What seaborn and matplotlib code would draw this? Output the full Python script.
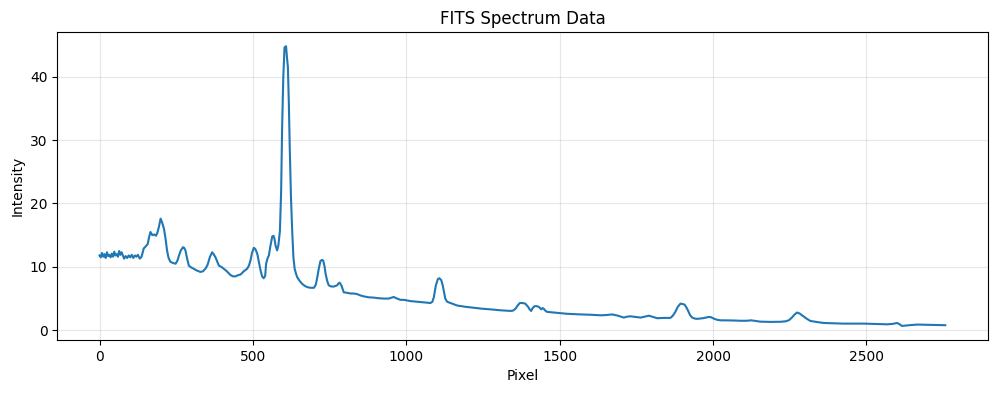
import matplotlib
matplotlib.use("Agg")
from matplotlib import pyplot as plt
import pandas as pd
import seaborn as sns

# values
pixel = [0, 4, 8, 12, 16, 20, 24, 28, 32, 36,
         40, 44, 48, 52, 56, 60, 64, 68, 72, 76,
         80, 85, 90, 95, 100, 105, 110, 115, 120, 125,
         131, 137, 144, 150, 157, 162, 166, 172, 179, 184,
         188, 193, 199, 204, 210, 215, 220, 225, 231, 240,
         248, 254, 259, 265, 272, 276, 280, 285, 291, 299,
         307, 318, 329, 337, 345, 352, 360, 367, 372, 378,
         384, 389, 397, 405, 415, 427, 435, 443, 452, 460,
         470, 481, 487, 492, 497, 503, 508, 514, 519, 525,
         530, 535, 540, 543, 548, 552, 557, 563, 567, 570,
         574, 579, 583, 588, 592, 595, 599, 603, 608, 611,
         614, 617, 620, 624, 628, 632, 636, 640, 644, 652,
         661, 669, 677, 688, 699, 705, 710, 715, 720, 725,
         729, 733, 737, 742, 747, 755, 764, 770, 775, 779,
         783, 789, 796, 807, 818, 829, 840, 850, 861, 877,
         894, 910, 927, 943, 959, 970, 981, 992, 1014, 1036,
         1057, 1079, 1085, 1090, 1096, 1103, 1108, 1114, 1118, 1122,
         1127, 1133, 1150, 1166, 1193, 1220, 1247, 1274, 1307, 1340,
         1348, 1356, 1363, 1370, 1379, 1388, 1397, 1402, 1407, 1412,
         1418, 1425, 1432, 1436, 1440, 1444, 1448, 1453, 1459, 1490,
         1524, 1568, 1600, 1633, 1652, 1671, 1690, 1709, 1720, 1731,
         1747, 1764, 1778, 1791, 1805, 1818, 1840, 1861, 1869, 1877,
         1885, 1894, 1900, 1907, 1912, 1918, 1925, 1932, 1940, 1948,
         1967, 1986, 1994, 2002, 2013, 2024, 2060, 2090, 2111, 2124,
         2140, 2154, 2187, 2220, 2235, 2247, 2257, 2266, 2274, 2282,
         2290, 2303, 2317, 2339, 2361, 2393, 2426, 2460, 2491, 2530,
         2567, 2585, 2600, 2608, 2616, 2640, 2665, 2710, 2757]

intensity = [11.8, 11.5, 12.2, 11.6, 12.0, 11.4, 12.3, 11.7, 11.9, 11.5,
             12.1, 11.6, 12.4, 11.8, 12.0, 11.6, 12.5, 11.9, 12.3, 11.8,
             11.3, 11.7, 11.4, 11.8, 11.5, 11.9, 11.4, 11.8, 11.6, 11.9,
             11.3, 11.6, 12.9, 13.2, 13.6, 14.8, 15.5, 15.0, 15.1, 14.9,
             15.3, 16.2, 17.6, 17.0, 16.0, 14.5, 12.6, 11.4, 10.8, 10.6,
             10.5, 11.0, 11.8, 12.6, 13.1, 13.0, 12.6, 11.4, 10.2, 9.9,
             9.7, 9.4, 9.2, 9.3, 9.7, 10.3, 11.6, 12.3, 12.0, 11.5,
             10.8, 10.2, 10.0, 9.7, 9.3, 8.7, 8.5, 8.5, 8.7, 8.8,
             9.3, 9.7, 10.2, 11.0, 12.2, 13.0, 12.8, 12.1, 10.9, 9.4,
             8.5, 8.2, 8.6, 10.5, 11.4, 11.8, 13.3, 14.8, 14.9, 14.5,
             13.3, 12.6, 13.4, 15.7, 22.0, 31.5, 40.0, 44.6, 44.8, 43.0,
             41.5, 36.0, 28.9, 21.0, 15.7, 11.5, 9.7, 9.0, 8.4, 7.8,
             7.3, 7.0, 6.8, 6.7, 6.7, 7.2, 8.4, 9.8, 10.9, 11.1,
             11.0, 10.2, 8.9, 7.8, 7.1, 6.9, 6.9, 7.0, 7.1, 7.4,
             7.5, 7.0, 6.0, 5.9, 5.8, 5.8, 5.7, 5.5, 5.35, 5.2,
             5.15, 5.05, 5.0, 5.0, 5.25, 5.0, 4.8, 4.8, 4.6, 4.5,
             4.4, 4.3, 4.5, 5.25, 7.0, 8.1, 8.2, 7.9, 7.2, 6.3,
             5.0, 4.5, 4.2, 3.9, 3.7, 3.55, 3.4, 3.3, 3.15, 3.05,
             3.1, 3.4, 3.9, 4.3, 4.3, 4.2, 3.7, 3.3, 3.05, 3.5,
             3.8, 3.8, 3.7, 3.5, 3.3, 3.5, 3.4, 3.1, 2.9, 2.75,
             2.6, 2.5, 2.45, 2.36, 2.4, 2.5, 2.3, 2.0, 2.15, 2.2,
             2.1, 2.0, 2.15, 2.3, 2.1, 1.9, 1.95, 1.95, 2.3, 2.9,
             3.7, 4.2, 4.15, 4.05, 3.7, 3.15, 2.4, 2.0, 1.85, 1.8,
             1.9, 2.1, 2.05, 1.85, 1.65, 1.57, 1.55, 1.5, 1.5, 1.57,
             1.45, 1.36, 1.32, 1.34, 1.4, 1.57, 2.0, 2.5, 2.8, 2.65,
             2.36, 1.9, 1.47, 1.3, 1.15, 1.1, 1.05, 1.05, 1.05, 1.0,
             0.94, 1.0, 1.15, 0.95, 0.68, 0.8, 0.9, 0.85, 0.8]

df = pd.DataFrame({'Pixel': pixel, 'Intensity': intensity})

fig, ax = plt.subplots(figsize=(9.96, 3.93), dpi=100)
fig.subplots_adjust(left=0.0575, right=0.9915, top=0.918, bottom=0.135)

sns.lineplot(data=df, x='Pixel', y='Intensity', color='#1f77b4',
             linewidth=1.5, ax=ax)
ax.set_title('FITS Spectrum Data')
ax.set_xlabel('Pixel')
ax.set_ylabel('Intensity')
ax.grid(True, alpha=0.3)

plt.savefig('out.png', dpi=100)
plt.close()
